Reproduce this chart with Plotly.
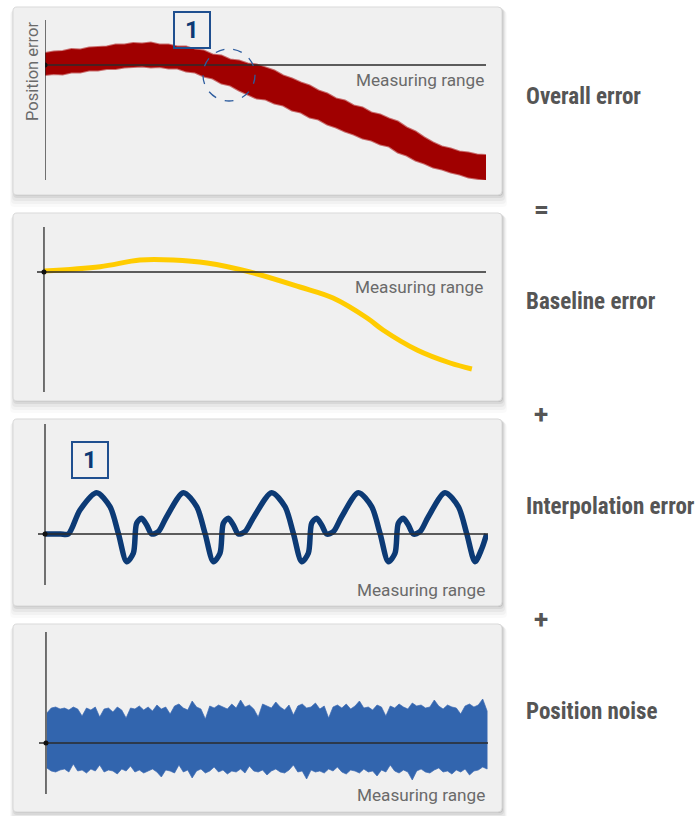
import plotly.graph_objects as go
import numpy as np

W, H = 700, 816

# ---------------- data ----------------
panel_labels = ["Overall error", "Baseline error", "Interpolation error", "Position noise"]
operators = ["=", "+", "+"]
x_axis_title = "Measuring range"
y_axis_title = "Position error"
marker_label = "1"

# Overall error band (position along measuring range 0..100)
overall_pos = list(range(0, 101, 2))
overall_upper = [1.2, 1.35, 1.4, 1.6, 1.55, 1.75, 1.8, 1.85, 2.05, 2.05,
                 2.2, 2.15, 2.25, 2.05, 2.05, 1.85, 1.85, 1.55, 1.45, 1.05,
                 0.95, 0.55, 0.45, 0.15, 0.05, -0.25, -0.55, -1.05, -1.35, -1.75,
                 -2.05, -2.55, -2.85, -3.35, -3.55, -4.05, -4.25, -4.75, -4.95, -5.35,
                 -5.65, -6.25, -6.65, -7.25, -7.75, -8.15, -8.35, -8.65, -8.75, -8.95,
                 -9.0]
overall_lower = [-1.0, -0.9, -0.95, -0.75, -0.75, -0.55, -0.55, -0.4, -0.4, -0.25,
                 -0.2, -0.15, -0.25, -0.2, -0.35, -0.35, -0.65, -0.75, -1.15, -1.35,
                 -1.85, -2.05, -2.55, -2.95, -3.35, -3.45, -3.85, -4.05, -4.55, -4.75,
                 -5.25, -5.45, -5.95, -6.25, -6.65, -6.95, -7.35, -7.55, -7.95, -8.15,
                 -8.75, -9.05, -9.55, -9.85, -10.25, -10.45, -10.75, -10.95, -11.25, -11.35,
                 -11.5]

# Baseline error curve
baseline_pos = [0, 12.7, 21.7, 29.2, 36.9, 46.6, 57.9, 65.4, 73.1, 76.7, 84.4, 91.9, 96.8]
baseline_err = [0.1, 0.53, 1.2, 1.2, 0.9, 0.0, -1.5, -2.6, -4.6, -5.8, -7.8, -9.1, -9.7]

# Interpolation error curve
interp_pos = [0, 3.5, 5.27, 7.90, 11.66, 14.67, 16.55, 18.43, 19.94, 20.69, 21.82, 22.95, 24.08, 25.58, 27.46,
              31.23, 34.24, 36.12, 38.00, 39.50, 40.26, 41.38, 42.51, 43.64, 45.15, 47.18,
              51.17, 54.18, 56.06, 57.94, 59.44, 60.20, 61.32, 62.45, 63.58, 65.09, 66.97,
              70.73, 73.74, 75.62, 77.50, 79.01, 79.76, 80.89, 82.02, 83.14, 84.65, 86.53,
              90.29, 93.30, 95.18, 97.07, 98.57, 99.70]
interp_err = [0, 0, 0, 2.4, 4.13, 2.73, 0.07, -2.77, -1.93, 1.07, 1.57, 0.9, 0, 0.23, 1.73,
              4.13, 2.73, 0.07, -2.77, -1.93, 1.07, 1.57, 0.9, 0, 0.23, 1.73,
              4.13, 2.73, 0.07, -2.77, -1.93, 1.07, 1.57, 0.9, 0, 0.23, 1.73,
              4.13, 2.73, 0.07, -2.77, -1.93, 1.07, 1.57, 0.9, 0, 0.23, 1.73,
              4.13, 2.73, 0.07, -2.77, -1.5, 0]

# Position noise envelope
noise_upper = [3.0, 3.5, 3.6, 3.4, 3.5, 3.3, 3.6, 3.4, 2.7, 3.5,
               3.3, 3.6, 2.6, 3.4, 3.5, 3.1, 3.6, 3.3, 2.5, 3.5,
               3.4, 3.7, 3.3, 3.6, 3.2, 3.8, 3.4, 3.6, 2.9, 3.7,
               3.9, 3.5, 3.3, 4.2, 3.6, 3.4, 2.4, 3.7, 3.5, 3.8,
               3.6, 3.4, 3.9, 3.5, 4.3, 3.6, 3.8, 3.4, 2.6, 3.9,
               3.7, 3.5, 4.1, 3.6, 3.3, 3.8, 2.8, 3.7, 3.9, 3.5,
               3.6, 4.0, 3.4, 3.7, 2.5, 3.6, 3.8, 3.5, 3.9, 3.4,
               3.7, 4.2, 3.5, 3.6, 3.3, 3.8, 3.6, 2.7, 3.7, 3.5,
               3.9, 3.6, 3.4, 4.0, 3.7, 3.8, 3.5, 3.6, 4.3, 3.7,
               3.4, 3.8, 3.6, 3.5, 2.9, 3.7, 3.9, 3.6, 3.8, 4.4,
               3.2]
noise_lower = [-2.5, -2.8, -2.9, -2.7, -2.6, -2.9, -2.1, -2.8, -2.7, -3.0,
               -2.6, -2.8, -2.2, -2.9, -2.7, -2.8, -3.1, -2.6, -2.8, -2.3,
               -2.9, -2.7, -3.0, -2.8, -2.6, -2.9, -3.4, -2.7, -2.8, -3.0,
               -2.2, -2.9, -2.7, -3.5, -2.8, -2.6, -3.0, -2.8, -2.4, -2.9,
               -2.7, -3.1, -2.8, -2.9, -2.6, -3.0, -2.3, -2.8, -2.9, -2.7,
               -3.2, -2.8, -2.6, -2.9, -3.0, -2.7, -2.2, -2.9, -2.8, -3.6,
               -2.7, -2.9, -2.8, -3.0, -2.6, -2.8, -2.4, -2.9, -3.1, -2.7,
               -2.8, -3.0, -2.6, -2.9, -2.8, -3.3, -2.7, -2.9, -2.2, -2.8,
               -3.0, -2.7, -2.9, -3.7, -2.8, -2.6, -2.9, -3.0, -2.7, -2.5,
               -2.9, -2.8, -3.1, -2.7, -2.9, -2.6, -3.2, -2.8, -2.7, -2.4,
               -2.6]
noise_pos = list(np.linspace(0.2, 99.8, len(noise_upper)))

# ---------------- layout geometry (pixels) ----------------
panels = [
    dict(card=(13, 7, 502, 195), xdom=(45, 486), ydom=(20, 180), xr=(0, 100), yr=(-11.5, 4.5),
         xt=(486, 80)),
    dict(card=(13, 213, 502, 401), xdom=(37, 486), ydom=(227, 392), xr=(-1.58, 100), yr=(-12.0, 4.5),
         xt=(485, 287)),
    dict(card=(13, 419, 502, 606), xdom=(38, 488), ydom=(424, 585), xr=(-1.58, 100), yr=(-5.1, 11.0),
         xt=(487, 590)),
    dict(card=(13, 624, 502, 812), xdom=(39, 488), ydom=(632, 794), xr=(-1.58, 100), yr=(-5.1, 11.1),
         xt=(487, 795)),
]
label_y = [96, 301, 506, 711]
operator_y = [209, 414, 619]


def px(x):
    return x / W


def py(y):
    return 1 - y / H


def rrect_path(x0, y0, x1, y1, r):
    def P(x, y):
        return f"{px(x):.5f},{py(y):.5f}"
    return (f"M {P(x0 + r, y0)} L {P(x1 - r, y0)} Q {P(x1, y0)} {P(x1, y0 + r)} "
            f"L {P(x1, y1 - r)} Q {P(x1, y1)} {P(x1 - r, y1)} L {P(x0 + r, y1)} "
            f"Q {P(x0, y1)} {P(x0, y1 - r)} L {P(x0, y0 + r)} Q {P(x0, y0)} {P(x0 + r, y0)} Z")


fig = go.Figure()
shapes = []
annotations = []

LINE_COL = "#2b2b2b"
TXT_GRAY = "#6a6a6a"
NAVY = "#0c3a75"
BOX_BLUE = "#1f4f8f"
LABEL_FONT = "Roboto Condensed, Liberation Sans Narrow, DejaVu Sans Condensed, Roboto"

for i, p in enumerate(panels):
    n = "" if i == 0 else str(i + 1)
    xa, ya = "x" + n, "y" + n
    fig.layout["xaxis" + n] = dict(domain=[px(p["xdom"][0]), px(p["xdom"][1])], range=list(p["xr"]),
                                    visible=False, anchor=ya, fixedrange=True)
    fig.layout["yaxis" + n] = dict(domain=[py(p["ydom"][1]), py(p["ydom"][0])], range=list(p["yr"]),
                                    visible=False, anchor=xa, fixedrange=True)
    x0, y0, x1, y1 = p["card"]
    # shadow
    for dy, s, a in [(1, 0, 0.10), (2, 1, 0.06), (4, 2, 0.045), (6, 3, 0.03), (8, 4, 0.02)]:
        shapes.append(dict(type="path", xref="paper", yref="paper", layer="below",
                           path=rrect_path(x0 - s + 1, y0 + dy - s, x1 + s + 1, y1 + dy + s, 4),
                           fillcolor=f"rgba(0,0,0,{a})", line=dict(width=0)))
    shapes.append(dict(type="path", xref="paper", yref="paper", layer="below",
                       path=rrect_path(x0, y0, x1, y1, 4),
                       fillcolor="#f0f0f0", line=dict(color="#d9d9d9", width=1)))
    # axes
    shapes.append(dict(type="line", xref=xa, yref=ya + " domain", x0=0, x1=0, y0=0, y1=1,
                       line=dict(color=LINE_COL, width=1.3), layer="above"))
    shapes.append(dict(type="line", xref=xa + " domain", yref=ya, x0=0, x1=1, y0=0, y1=0,
                       line=dict(color=LINE_COL, width=1.3), layer="above"))
    shapes.append(dict(type="circle", xref=xa, yref=ya, xsizemode="pixel", ysizemode="pixel",
                       xanchor=0, yanchor=0, x0=-2.5, x1=2.5, y0=-2.5, y1=2.5,
                       fillcolor="#111", line=dict(width=0), layer="above"))
    annotations.append(dict(text=x_axis_title, xref="paper", yref="paper", x=px(p["xt"][0]), y=py(p["xt"][1]),
                            xanchor="right", yanchor="middle", showarrow=False,
                            font=dict(family="Roboto", size=17.2, color=TXT_GRAY)))
    annotations.append(dict(text=f"<b>{panel_labels[i]}</b>", xref="paper", yref="paper",
                            x=px(524), y=py(label_y[i]), xanchor="left", yanchor="middle", showarrow=False,
                            font=dict(family=LABEL_FONT, size=23, color="#555555")))

for j, op in enumerate(operators):
    annotations.append(dict(text=f"<b>{op}</b>", xref="paper", yref="paper", x=px(541), y=py(operator_y[j]),
                            xanchor="center", yanchor="middle", showarrow=False,
                            font=dict(family="Roboto", size=26, color="#555555")))

annotations.append(dict(text=y_axis_title, xref="paper", yref="paper", x=px(32), y=py(72), textangle=-90,
                        xanchor="center", yanchor="middle", showarrow=False,
                        font=dict(family="Roboto", size=16.5, color=TXT_GRAY)))

# marker boxes "1"
for (bx0, by0, bx1, by1) in [(174, 12, 210, 48), (72, 442, 108, 478)]:
    shapes.append(dict(type="rect", xref="paper", yref="paper", x0=px(bx0), x1=px(bx1), y0=py(by1), y1=py(by0),
                       line=dict(color=BOX_BLUE, width=2), fillcolor="rgba(0,0,0,0)", layer="above"))
    annotations.append(dict(text=f"<b>{marker_label}</b>", xref="paper", yref="paper",
                            x=px((bx0 + bx1) / 2), y=py((by0 + by1) / 2), xanchor="center", yanchor="middle",
                            showarrow=False, font=dict(family="Roboto", size=24, color=NAVY)))

# dashed circle on overall error
shapes.append(dict(type="circle", xref="paper", yref="paper", x0=px(203), x1=px(255), y0=py(101), y1=py(49),
                   line=dict(color="#2d5c9e", width=1.3, dash="dash"), layer="above"))

# ---------------- traces ----------------
fig.add_trace(go.Scatter(x=overall_pos + overall_pos[::-1], y=overall_upper + overall_lower[::-1],
                         xaxis="x", yaxis="y", mode="lines", fill="toself",
                         fillcolor="#a00000", line=dict(color="rgba(165,0,0,0.55)", width=2.2),
                         hoverinfo="skip", showlegend=False))
fig.add_trace(go.Scatter(x=baseline_pos, y=baseline_err, xaxis="x2", yaxis="y2", mode="lines",
                         line=dict(color="#ffcc00", width=5, shape="spline", smoothing=1.0),
                         hoverinfo="skip", showlegend=False))
fig.add_trace(go.Scatter(x=interp_pos, y=interp_err, xaxis="x3", yaxis="y3", mode="lines",
                         line=dict(color=NAVY, width=5.5, shape="spline", smoothing=0.8),
                         hoverinfo="skip", showlegend=False))
fig.add_trace(go.Scatter(x=noise_pos + noise_pos[::-1], y=noise_upper + noise_lower[::-1],
                         xaxis="x4", yaxis="y4", mode="lines", fill="toself",
                         fillcolor="#3265ae", line=dict(color="rgba(60,105,178,0.7)", width=1),
                         hoverinfo="skip", showlegend=False))

fig.update_layout(width=W, height=H, margin=dict(l=0, r=0, t=0, b=0),
                  paper_bgcolor="white", plot_bgcolor="rgba(0,0,0,0)",
                  shapes=shapes, annotations=annotations, showlegend=False)

fig.write_html("out.html", config={"displayModeBar": False},
               post_script="document.body.style.margin='0';document.body.style.overflow='hidden';")
